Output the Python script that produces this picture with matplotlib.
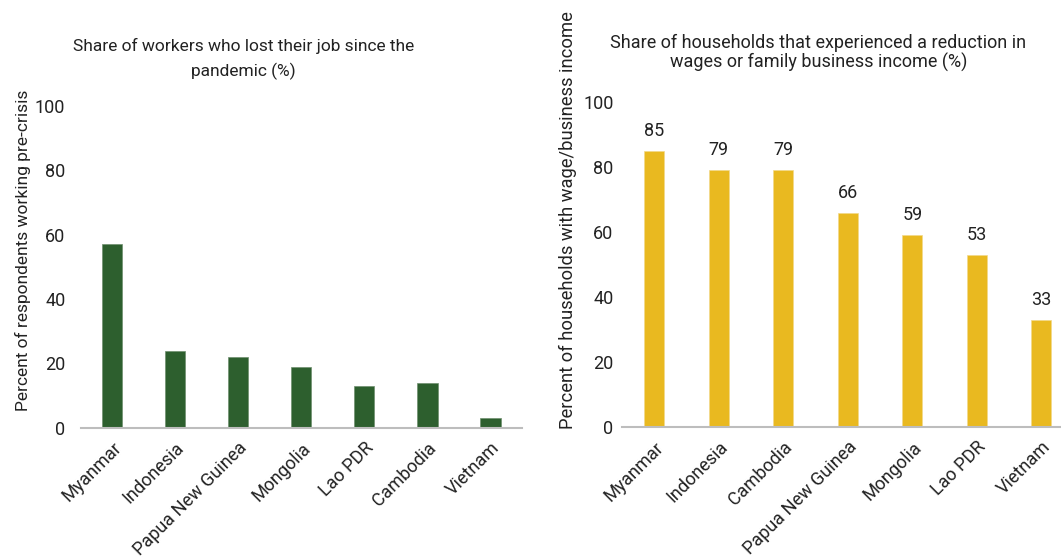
import matplotlib

matplotlib.use("Agg")
import matplotlib.pyplot as plt

plt.rcParams["font.family"] = ["Roboto", "DejaVu Sans"]

# left panel: job loss
left_countries = ["Myanmar", "Indonesia", "Papua New Guinea", "Mongolia", "Lao PDR", "Cambodia", "Vietnam"]
left_values = [57, 24, 22, 19, 13, 14, 3]

# right panel: income reduction
right_countries = ["Myanmar", "Indonesia", "Cambodia", "Papua New Guinea", "Mongolia", "Lao PDR", "Vietnam"]
right_values = [85, 79, 79, 66, 59, 53, 33]

yticks = [0, 20, 40, 60, 80, 100]

GREEN = "#2d5f2e"
YELLOW = "#e9b920"
TXT = "#222222"


def style_axis(ax, countries, pad):
    ax.set_xlim(-0.5, len(countries) - 0.5)
    ax.set_ylim(0, 100)
    ax.set_yticks(yticks)
    ax.set_xticks(range(len(countries)))
    ax.set_xticklabels(countries, rotation=45, ha="right", rotation_mode="anchor", fontsize=13, color=TXT)
    ax.tick_params(axis="both", length=0, labelsize=13, colors=TXT)
    ax.tick_params(axis="y", pad=pad)
    ax.tick_params(axis="x", pad=8)
    for s in ["top", "right", "left"]:
        ax.spines[s].set_visible(False)
    ax.spines["bottom"].set_color("#bdbdbd")
    ax.spines["bottom"].set_linewidth(1.5)


fig = plt.figure(figsize=(10.61, 5.6), dpi=100)

ax1 = fig.add_axes([0.076, 0.236, 0.416, 0.575])
ax1.bar(range(len(left_values)), left_values, width=0.32, color=GREEN, edgecolor="#6f8f6f", linewidth=0.5)
style_axis(ax1, left_countries, 11)
ax1.set_ylabel("Percent of respondents working pre-crisis", fontsize=12.5, color=TXT)
ax1.yaxis.set_label_coords(-0.112, 0.55)
fig.text(0.2295, 0.894, "Share of workers who lost their job since the\npandemic (%)",
         ha="center", va="center", fontsize=12.5, color=TXT, linespacing=1.65)

ax2 = fig.add_axes([0.586, 0.2375, 0.426, 0.58])
bars = ax2.bar(range(len(right_values)), right_values, width=0.31, color=YELLOW, edgecolor="#f2d98a", linewidth=0.5)
style_axis(ax2, right_countries, 6)
ax2.bar_label(bars, labels=[str(v) for v in right_values], padding=8, fontsize=13, color=TXT)
ax2.set_ylabel("Percent of households with wage/business income", fontsize=13.2, color=TXT)
ax2.yaxis.set_label_coords(-0.1, 0.637)
fig.text(0.7715, 0.905, "Share of households that experienced a reduction in\nwages or family business income (%)",
         ha="center", va="center", fontsize=13, color=TXT, linespacing=1.05)

fig.savefig("out.png", dpi=100)
